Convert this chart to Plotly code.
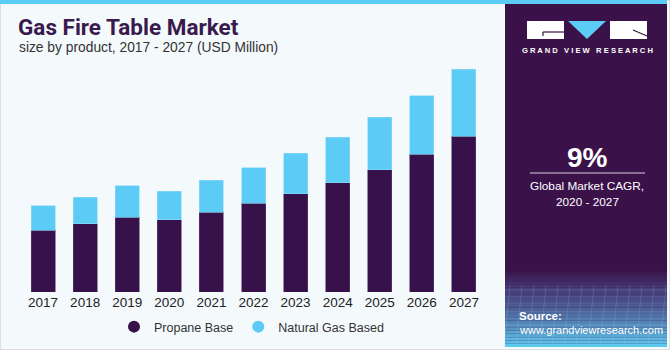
import plotly.graph_objects as go

years = ["2017", "2018", "2019", "2020", "2021", "2022", "2023", "2024", "2025", "2026", "2027"]
propane = [9.97, 10.99, 12.07, 11.64, 12.88, 14.33, 15.89, 17.62, 19.72, 22.25, 25.21]
natural_gas = [3.93, 4.31, 5.11, 4.68, 5.17, 5.71, 6.53, 7.38, 8.51, 9.48, 10.78]
series_names = ["Propane Base", "Natural Gas Based"]
first_label = "$13.9M"

W, H = 670, 350
PURPLE = "#37114a"
BLUE = "#5ccbf6"
BG = "#f4f9fc"
PANEL = "#3a1249"

def px_x(x):
    return x / W

def px_y(y):
    return 1 - y / H

fig = go.Figure()
fig.add_trace(go.Bar(x=years, y=propane, name=series_names[0], marker=dict(color=PURPLE, line=dict(color="#5a4070", width=0.6)),
                     width=0.57, showlegend=False))
fig.add_trace(go.Bar(x=years, y=natural_gas, name=series_names[1], marker=dict(color=BLUE, line=dict(color="#8fdaf8", width=0.6)),
                     width=0.57, showlegend=False))
# legend entries with circle markers
fig.add_trace(go.Scatter(x=[None], y=[None], mode="markers", name=series_names[0],
                         marker=dict(color=PURPLE, size=12, symbol="circle")))
fig.add_trace(go.Scatter(x=[None], y=[None], mode="markers", name=series_names[1],
                         marker=dict(color=BLUE, size=12, symbol="circle")))

total0 = propane[0] + natural_gas[0]
fig.add_annotation(x=years[0], y=total0, xref="x", yref="y", text=first_label, showarrow=False,
                   yshift=17, xshift=0, font=dict(family="Liberation Sans, Arial", size=14, color="#222222"))

shapes = []
# backgrounds
shapes.append(dict(type="rect", xref="paper", yref="paper", x0=0, x1=1, y0=0, y1=1,
                   fillcolor=BG, line=dict(color="#c8c8c8", width=1), layer="below"))
shapes.append(dict(type="rect", xref="paper", yref="paper", x0=px_x(505), x1=px_x(667), y0=px_y(347), y1=px_y(4),
                   fillcolor=PANEL, line=dict(width=0), layer="below"))
# gradient at the bottom of the panel
n = 24
top_c = (58, 18, 73)
mid_c = (70, 60, 120)
bot_c = (92, 200, 240)
y0g, y1g = 268, 347
for i in range(n):
    t = i / (n - 1)
    if t < 0.25:
        u = t / 0.25
        c = tuple(int(top_c[k] + (mid_c[k] - top_c[k]) * u) for k in range(3))
    else:
        u = ((t - 0.25) / 0.75) ** 1.3
        c = tuple(int(mid_c[k] + (bot_c[k] - mid_c[k]) * u) for k in range(3))
    ya = y0g + (y1g - y0g) * i / n
    yb = y0g + (y1g - y0g) * (i + 1) / n
    shapes.append(dict(type="rect", xref="paper", yref="paper", x0=px_x(505), x1=px_x(667), y0=px_y(yb), y1=px_y(ya),
                       fillcolor="rgb(%d,%d,%d)" % c, line=dict(width=0), layer="below"))
# faint grid lines in gradient
for k in range(8):
    yy = 290 + k * 7
    shapes.append(dict(type="line", xref="paper", yref="paper", x0=px_x(505), x1=px_x(667), y0=px_y(yy), y1=px_y(yy),
                       line=dict(color="rgba(200,220,255,0.18)", width=1), layer="below"))
for k in range(14):
    xx = 510 + k * 12
    shapes.append(dict(type="line", xref="paper", yref="paper", x0=px_x(xx), x1=px_x(xx - 6), y0=px_y(285), y1=px_y(347),
                       line=dict(color="rgba(200,220,255,0.15)", width=1), layer="below"))
# top blue strip
shapes.append(dict(type="rect", xref="paper", yref="paper", x0=0, x1=px_x(667), y0=px_y(4), y1=1,
                   fillcolor="#5ccbf6", line=dict(width=0), layer="below"))
# logo
shapes.append(dict(type="rect", xref="paper", yref="paper", x0=px_x(527), x1=px_x(564), y0=px_y(39), y1=px_y(21),
                   fillcolor="white", line=dict(width=0)))
shapes.append(dict(type="path", xref="paper", yref="paper",
                   path="M %f %f L %f %f L %f %f Z" % (px_x(568), px_y(21), px_x(606), px_y(21), px_x(587), px_y(39)),
                   fillcolor=BLUE, line=dict(width=0)))
shapes.append(dict(type="rect", xref="paper", yref="paper", x0=px_x(610), x1=px_x(647), y0=px_y(39), y1=px_y(21),
                   fillcolor="white", line=dict(width=0)))
shapes.append(dict(type="line", xref="paper", yref="paper", x0=px_x(543), x1=px_x(564), y0=px_y(32), y1=px_y(32),
                   line=dict(color=PANEL, width=1.2)))
shapes.append(dict(type="line", xref="paper", yref="paper", x0=px_x(543), x1=px_x(543), y0=px_y(32), y1=px_y(36),
                   line=dict(color=PANEL, width=1.2)))
shapes.append(dict(type="line", xref="paper", yref="paper", x0=px_x(633), x1=px_x(647), y0=px_y(30), y1=px_y(36),
                   line=dict(color=PANEL, width=1.2)))
# separator line under 9%
shapes.append(dict(type="line", xref="paper", yref="paper", x0=px_x(530), x1=px_x(645), y0=px_y(173), y1=px_y(173),
                   line=dict(color="#d8d0e0", width=1.2)))

ann = [
    dict(x=px_x(16), y=px_y(27), text="<b>Gas Fire Table Market</b>", xanchor="left", yanchor="middle",
         font=dict(family="Roboto, Liberation Sans", size=22.5, color="#3a1a4d", weight=900)),
    dict(x=px_x(17), y=px_y(48), text="size by product, 2017 - 2027 (USD Million)", xanchor="left", yanchor="middle",
         font=dict(family="Liberation Sans, Arial", size=13.8, color="#333333")),
    dict(x=px_x(587), y=px_y(51), text="<b>G R A N D   V I E W   R E S E A R C H</b>", xanchor="center", yanchor="middle",
         font=dict(family="Liberation Sans, Arial", size=7.6, color="white")),
    dict(x=px_x(587), y=px_y(157), text="<b>9%</b>", xanchor="center", yanchor="middle",
         font=dict(family="Liberation Sans, Arial", size=28, color="white")),
    dict(x=px_x(587), y=px_y(186), text="Global Market CAGR,", xanchor="center", yanchor="middle",
         font=dict(family="Liberation Sans, Arial", size=11.8, color="white")),
    dict(x=px_x(587), y=px_y(202), text="2020 - 2027", xanchor="center", yanchor="middle",
         font=dict(family="Liberation Sans, Arial", size=11.8, color="white")),
    dict(x=px_x(517), y=px_y(316), text="<b>Source:</b>", xanchor="left", yanchor="middle",
         font=dict(family="Liberation Sans, Arial", size=11.5, color="white")),
    dict(x=px_x(517), y=px_y(330), text="www.grandviewresearch.com", xanchor="left", yanchor="middle",
         font=dict(family="Liberation Sans, Arial", size=11, color="white")),
]
for a in ann:
    a.update(xref="paper", yref="paper", showarrow=False)
    fig.add_annotation(**a)

fig.update_layout(
    width=W, height=H, margin=dict(l=0, r=0, t=0, b=0),
    paper_bgcolor=BG, plot_bgcolor="rgba(0,0,0,0)",
    barmode="stack", bargap=0.43,
    shapes=shapes,
    showlegend=True,
    legend=dict(orientation="h", x=px_x(114), xanchor="left", y=px_y(327), yanchor="middle",
                traceorder="normal",
                font=dict(family="Liberation Sans, Arial", size=12.5, color="#333333"),
                bgcolor="rgba(0,0,0,0)", itemwidth=30),
    xaxis=dict(domain=[px_x(22), px_x(485)], range=[-0.5, 10.5], showgrid=False, zeroline=False, showline=False,
               ticks="", tickfont=dict(family="Liberation Sans, Arial", size=13.5, color="#222222"), fixedrange=True),
    yaxis=dict(domain=[px_y(292), 1], range=[0, 292 * 0.1616], visible=False, fixedrange=True),
)

fig.write_html("out.html")
